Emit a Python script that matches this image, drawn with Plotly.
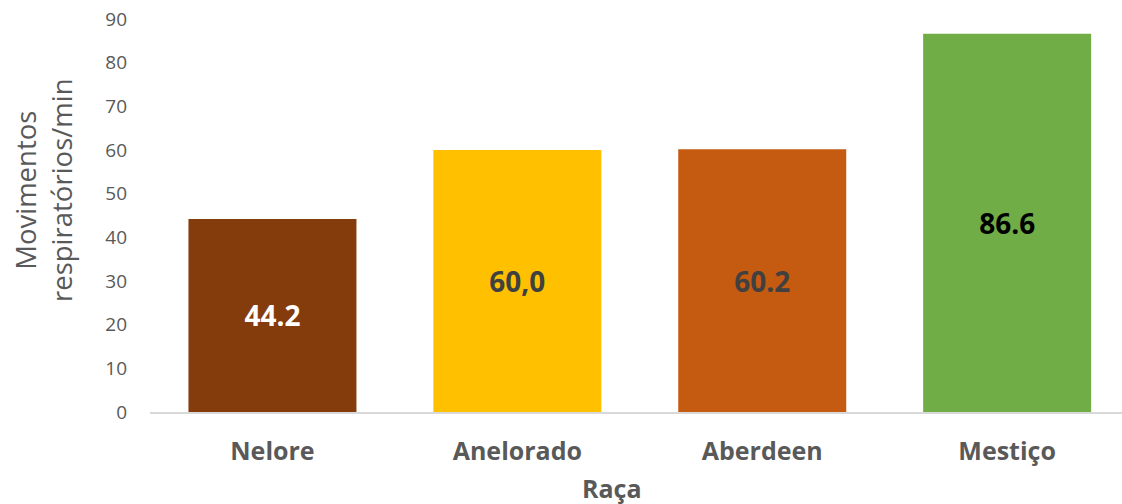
import plotly.graph_objects as go

# Respiratory rate per breed
racas = ["Nelore", "Anelorado", "Aberdeen", "Mestiço"]
movimentos = [44.2, 60.0, 60.2, 86.6]
rotulos = ["44.2", "60,0", "60.2", "86.6"]
cores = ["#843C0C", "#FFC000", "#C55A11", "#70AD47"]
cores_rotulo = ["#FFFFFF", "#404040", "#404040", "#000000"]
ticks_y = [0, 10, 20, 30, 40, 50, 60, 70, 80, 90]

FONT = "Open Sans, Noto Sans, sans-serif"
GRAY = "#595959"

fig = go.Figure(
    go.Bar(
        x=racas,
        y=movimentos,
        marker=dict(color=cores, line=dict(width=0)),
        width=0.686,
        text=rotulos,
        textposition="inside",
        insidetextanchor="middle",
        textangle=0,
        textfont=dict(family=FONT, size=28, color=cores_rotulo, weight="bold"),
        cliponaxis=False,
        hoverinfo="skip",
    )
)

fig.update_layout(
    width=1122,
    height=504,
    margin=dict(l=150, r=0, t=19, b=92),
    paper_bgcolor="white",
    plot_bgcolor="white",
    showlegend=False,
    font=dict(family=FONT, color=GRAY),
    uniformtext=dict(mode=False),
    annotations=[
        # y-axis title, two lines, rotated
        dict(
            text="Movimentos<br>respiratórios/min",
            textangle=-90,
            xref="paper", yref="paper",
            x=-0.109, y=0.565,
            xanchor="center", yanchor="middle",
            showarrow=False,
            font=dict(family=FONT, size=27.5, color=GRAY),
        ),
        # x-axis title
        dict(
            text="<b>Raça</b>",
            xref="paper", yref="paper",
            x=0.475, y=-0.193,
            xanchor="center", yanchor="middle",
            showarrow=False,
            font=dict(family=FONT, size=25, color=GRAY),
        ),
    ],
)

fig.update_xaxes(
    range=[-0.5, 3.469],
    showline=True,
    linecolor="#D9D9D9",
    linewidth=2,
    ticks="",
    showgrid=False,
    ticklabelstandoff=16,
    tickfont=dict(family=FONT, size=25, color=GRAY, weight="bold"),
)

fig.update_yaxes(
    range=[0, 90],
    tickvals=ticks_y,
    showgrid=False,
    zeroline=False,
    showline=False,
    ticks="",
    ticklabelstandoff=22,
    tickfont=dict(family=FONT, size=19, color=GRAY),
)

fig.write_html("out.html")
